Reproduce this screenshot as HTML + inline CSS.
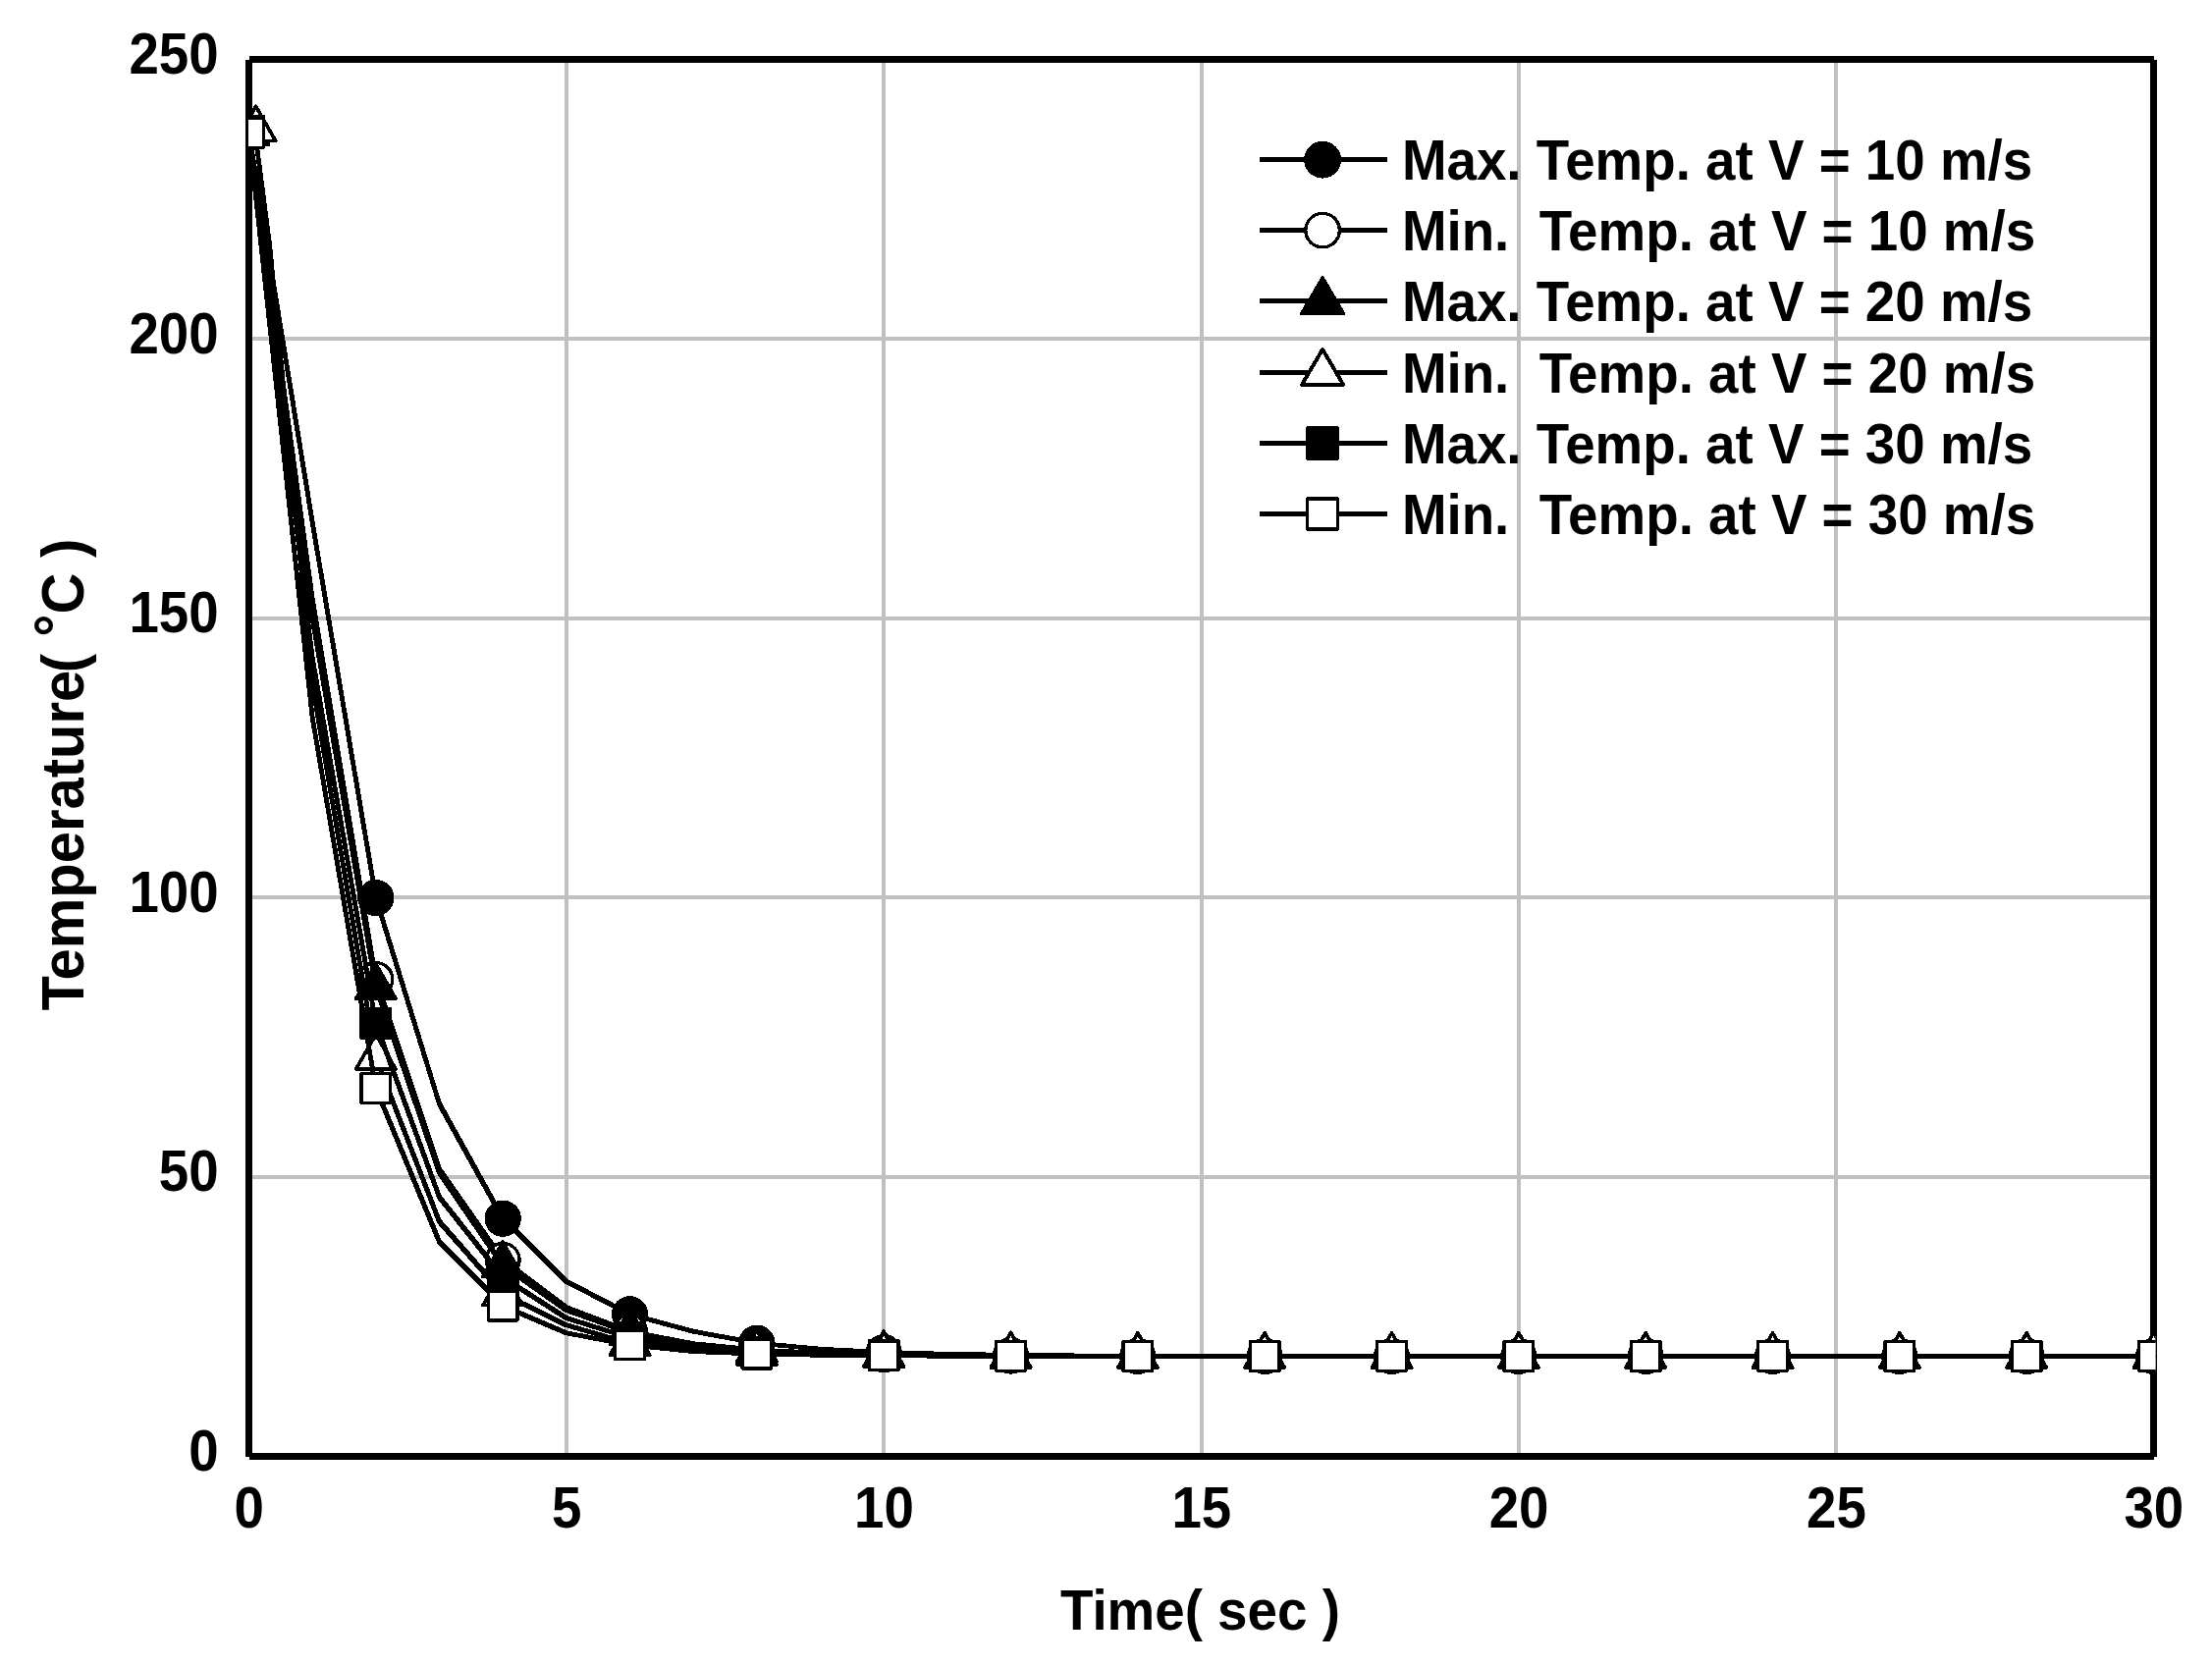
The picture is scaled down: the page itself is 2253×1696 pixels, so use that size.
<!DOCTYPE html>
<html lang="en"><head><meta charset="utf-8"><title>Temperature vs Time</title>
<style>html,body{margin:0;padding:0;background:#fff}svg{display:block}text{font-family:"Liberation Sans",sans-serif;font-weight:bold;fill:#000}</style></head><body>
<svg width="2253" height="1696" viewBox="0 0 2253 1696">
<rect width="2253" height="1696" fill="#fff"/>
<g stroke="#c0c0c0" stroke-width="4" shape-rendering="crispEdges">
<line x1="576.83" y1="60.5" x2="576.83" y2="1483.5"/>
<line x1="900.17" y1="60.5" x2="900.17" y2="1483.5"/>
<line x1="1223.5" y1="60.5" x2="1223.5" y2="1483.5"/>
<line x1="1546.83" y1="60.5" x2="1546.83" y2="1483.5"/>
<line x1="1870.17" y1="60.5" x2="1870.17" y2="1483.5"/>
<line x1="253.5" y1="1198.9" x2="2193.5" y2="1198.9"/>
<line x1="253.5" y1="914.3" x2="2193.5" y2="914.3"/>
<line x1="253.5" y1="629.7" x2="2193.5" y2="629.7"/>
<line x1="253.5" y1="345.1" x2="2193.5" y2="345.1"/>
</g>
<path d="M253.5 60.5H2193.5M2193.5 60.5V1483.5M2193.5 1483.5H253.5M253.5 1483.5V60.5" fill="none" stroke="#000" stroke-width="7" stroke-linecap="butt" shape-rendering="crispEdges"/>
<clipPath id="c"><rect x="253" y="57" width="1942.5" height="1430"/></clipPath>
<g clip-path="url(#c)" stroke="#000" stroke-linejoin="round" stroke-linecap="round" shape-rendering="crispEdges">
<polyline points="253.5,135.4 318.17,532 382.83,914.5" fill="none" stroke-width="4.9"/>
<polyline points="382.83,914.5 447.5,1124.4" fill="none" stroke-width="5.0"/>
<polyline points="447.5,1124.4 512.17,1241.2" fill="none" stroke-width="5.4"/>
<polyline points="512.17,1241.2 576.83,1305.2" fill="none" stroke-width="5.6"/>
<polyline points="576.83,1305.2 641.5,1338.8" fill="none" stroke-width="5.3"/>
<polyline points="641.5,1338.8 706.17,1356.2" fill="none" stroke-width="5.0"/>
<polyline points="706.17,1356.2 770.83,1368.1" fill="none" stroke-width="4.9"/>
<polyline points="770.83,1368.1 835.5,1374.2 900.17,1377.5 964.83,1379.3 1029.5,1380.3 1094.17,1380.9 1158.83,1381.2 1223.5,1381.45 1288.17,1381.45 1352.83,1381.45 1417.5,1381.45 1482.17,1381.45 1546.83,1381.45 1611.5,1381.45 1676.17,1381.45 1740.83,1381.45 1805.5,1381.45 1870.17,1381.45 1934.83,1381.45 1999.5,1381.45 2064.17,1381.45 2128.83,1381.45 2193.5,1381.45" fill="none" stroke-width="4.8"/>
<g stroke-width="3.3">
<circle cx="253.5" cy="135.4" r="16.95" fill="#000"/>
<circle cx="382.83" cy="914.5" r="16.95" fill="#000"/>
<circle cx="512.17" cy="1241.2" r="16.95" fill="#000"/>
<circle cx="641.5" cy="1338.8" r="16.95" fill="#000"/>
<circle cx="770.83" cy="1368.1" r="16.95" fill="#000"/>
<circle cx="900.17" cy="1377.5" r="16.95" fill="#000"/>
<circle cx="1029.5" cy="1380.3" r="16.95" fill="#000"/>
<circle cx="1158.83" cy="1381.2" r="16.95" fill="#000"/>
<circle cx="1288.17" cy="1381.45" r="16.95" fill="#000"/>
<circle cx="1417.5" cy="1381.45" r="16.95" fill="#000"/>
<circle cx="1546.83" cy="1381.45" r="16.95" fill="#000"/>
<circle cx="1676.17" cy="1381.45" r="16.95" fill="#000"/>
<circle cx="1805.5" cy="1381.45" r="16.95" fill="#000"/>
<circle cx="1934.83" cy="1381.45" r="16.95" fill="#000"/>
<circle cx="2064.17" cy="1381.45" r="16.95" fill="#000"/>
<circle cx="2193.5" cy="1381.45" r="16.95" fill="#000"/>
</g>
<polyline points="253.5,135.4 318.17,610 382.83,997.5" fill="none" stroke-width="4.9"/>
<polyline points="382.83,997.5 447.5,1191" fill="none" stroke-width="5.1"/>
<polyline points="447.5,1191 512.17,1283.4 576.83,1331.8" fill="none" stroke-width="5.5"/>
<polyline points="576.83,1331.8 641.5,1356.3" fill="none" stroke-width="5.1"/>
<polyline points="641.5,1356.3 706.17,1368.7" fill="none" stroke-width="4.9"/>
<polyline points="706.17,1368.7 770.83,1375 835.5,1378.2 900.17,1379.8 964.83,1380.6 1029.5,1381 1094.17,1381.45 1158.83,1381.45 1223.5,1381.45 1288.17,1381.45 1352.83,1381.45 1417.5,1381.45 1482.17,1381.45 1546.83,1381.45 1611.5,1381.45 1676.17,1381.45 1740.83,1381.45 1805.5,1381.45 1870.17,1381.45 1934.83,1381.45 1999.5,1381.45 2064.17,1381.45 2128.83,1381.45 2193.5,1381.45" fill="none" stroke-width="4.8"/>
<g stroke-width="3.3">
<circle cx="253.5" cy="135.4" r="16.95" fill="#fff"/>
<circle cx="382.83" cy="997.5" r="16.95" fill="#fff"/>
<circle cx="512.17" cy="1283.4" r="16.95" fill="#fff"/>
<circle cx="641.5" cy="1356.3" r="16.95" fill="#fff"/>
<circle cx="770.83" cy="1375" r="16.95" fill="#fff"/>
<circle cx="900.17" cy="1379.8" r="16.95" fill="#fff"/>
<circle cx="1029.5" cy="1381" r="16.95" fill="#fff"/>
<circle cx="1158.83" cy="1381.45" r="16.95" fill="#fff"/>
<circle cx="1288.17" cy="1381.45" r="16.95" fill="#fff"/>
<circle cx="1417.5" cy="1381.45" r="16.95" fill="#fff"/>
<circle cx="1546.83" cy="1381.45" r="16.95" fill="#fff"/>
<circle cx="1676.17" cy="1381.45" r="16.95" fill="#fff"/>
<circle cx="1805.5" cy="1381.45" r="16.95" fill="#fff"/>
<circle cx="1934.83" cy="1381.45" r="16.95" fill="#fff"/>
<circle cx="2064.17" cy="1381.45" r="16.95" fill="#fff"/>
<circle cx="2193.5" cy="1381.45" r="16.95" fill="#fff"/>
</g>
<polyline points="253.5,135.4 318.17,630 382.83,1005.5" fill="none" stroke-width="4.9"/>
<polyline points="382.83,1005.5 447.5,1194.5" fill="none" stroke-width="5.1"/>
<polyline points="447.5,1194.5 512.17,1288.9 576.83,1334.5" fill="none" stroke-width="5.5"/>
<polyline points="576.83,1334.5 641.5,1357.7" fill="none" stroke-width="5.1"/>
<polyline points="641.5,1357.7 706.17,1369.4" fill="none" stroke-width="4.9"/>
<polyline points="706.17,1369.4 770.83,1375.4 835.5,1378.4 900.17,1379.9 964.83,1380.7 1029.5,1381 1094.17,1381.45 1158.83,1381.45 1223.5,1381.45 1288.17,1381.45 1352.83,1381.45 1417.5,1381.45 1482.17,1381.45 1546.83,1381.45 1611.5,1381.45 1676.17,1381.45 1740.83,1381.45 1805.5,1381.45 1870.17,1381.45 1934.83,1381.45 1999.5,1381.45 2064.17,1381.45 2128.83,1381.45 2193.5,1381.45" fill="none" stroke-width="4.8"/>
<g stroke-width="3.3">
<path stroke-width="3.7" d="M253.5 111.7L273.65 147L233.35 147Z" fill="#000"/>
<path stroke-width="3.7" d="M382.83 981.8L402.98 1017.1L362.68 1017.1Z" fill="#000"/>
<path stroke-width="3.7" d="M512.17 1265.2L532.32 1300.5L492.02 1300.5Z" fill="#000"/>
<path stroke-width="3.7" d="M641.5 1334L661.65 1369.3L621.35 1369.3Z" fill="#000"/>
<path stroke-width="3.7" d="M770.83 1351.7L790.98 1387L750.68 1387Z" fill="#000"/>
<path stroke-width="3.7" d="M900.17 1356.2L920.32 1391.5L880.02 1391.5Z" fill="#000"/>
<path stroke-width="3.7" d="M1029.5 1357.3L1049.65 1392.6L1009.35 1392.6Z" fill="#000"/>
<path stroke-width="3.7" d="M1158.83 1357.75L1178.98 1393.05L1138.68 1393.05Z" fill="#000"/>
<path stroke-width="3.7" d="M1288.17 1357.75L1308.32 1393.05L1268.02 1393.05Z" fill="#000"/>
<path stroke-width="3.7" d="M1417.5 1357.75L1437.65 1393.05L1397.35 1393.05Z" fill="#000"/>
<path stroke-width="3.7" d="M1546.83 1357.75L1566.98 1393.05L1526.68 1393.05Z" fill="#000"/>
<path stroke-width="3.7" d="M1676.17 1357.75L1696.32 1393.05L1656.02 1393.05Z" fill="#000"/>
<path stroke-width="3.7" d="M1805.5 1357.75L1825.65 1393.05L1785.35 1393.05Z" fill="#000"/>
<path stroke-width="3.7" d="M1934.83 1357.75L1954.98 1393.05L1914.68 1393.05Z" fill="#000"/>
<path stroke-width="3.7" d="M2064.17 1357.75L2084.32 1393.05L2044.02 1393.05Z" fill="#000"/>
<path stroke-width="3.7" d="M2193.5 1357.75L2213.65 1393.05L2173.35 1393.05Z" fill="#000"/>
</g>
<polyline points="259.4,132 274.7,250 318.17,697" fill="none" stroke-width="4.8"/>
<polyline points="318.17,697 382.83,1077.3" fill="none" stroke-width="4.9"/>
<polyline points="382.83,1077.3 447.5,1244.3" fill="none" stroke-width="5.1"/>
<polyline points="447.5,1244.3 512.17,1318" fill="none" stroke-width="5.6"/>
<polyline points="512.17,1318 576.83,1349.7" fill="none" stroke-width="5.3"/>
<polyline points="576.83,1349.7 641.5,1368.5" fill="none" stroke-width="5.0"/>
<polyline points="641.5,1368.5 706.17,1375.2 770.83,1378.3 835.5,1379.9 900.17,1380.7 964.83,1381.1 1029.5,1381.45 1094.17,1381.45 1158.83,1381.45 1223.5,1381.45 1288.17,1381.45 1352.83,1381.45 1417.5,1381.45 1482.17,1381.45 1546.83,1381.45 1611.5,1381.45 1676.17,1381.45 1740.83,1381.45 1805.5,1381.45 1870.17,1381.45 1934.83,1381.45 1999.5,1381.45 2064.17,1381.45 2128.83,1381.45 2193.5,1381.45" fill="none" stroke-width="4.8"/>
<g stroke-width="3.3">
<path stroke-width="3.7" d="M260.6 108.3L280.75 143.6L240.45 143.6Z" fill="#fff"/>
<path stroke-width="3.7" d="M382.83 1053.6L402.98 1088.9L362.68 1088.9Z" fill="#fff"/>
<path stroke-width="3.7" d="M512.17 1294.3L532.32 1329.6L492.02 1329.6Z" fill="#fff"/>
<path stroke-width="3.7" d="M641.5 1344.8L661.65 1380.1L621.35 1380.1Z" fill="#fff"/>
<path stroke-width="3.7" d="M770.83 1354.6L790.98 1389.9L750.68 1389.9Z" fill="#fff"/>
<path stroke-width="3.7" d="M900.17 1357L920.32 1392.3L880.02 1392.3Z" fill="#fff"/>
<path stroke-width="3.7" d="M1029.5 1357.75L1049.65 1393.05L1009.35 1393.05Z" fill="#fff"/>
<path stroke-width="3.7" d="M1158.83 1357.75L1178.98 1393.05L1138.68 1393.05Z" fill="#fff"/>
<path stroke-width="3.7" d="M1288.17 1357.75L1308.32 1393.05L1268.02 1393.05Z" fill="#fff"/>
<path stroke-width="3.7" d="M1417.5 1357.75L1437.65 1393.05L1397.35 1393.05Z" fill="#fff"/>
<path stroke-width="3.7" d="M1546.83 1357.75L1566.98 1393.05L1526.68 1393.05Z" fill="#fff"/>
<path stroke-width="3.7" d="M1676.17 1357.75L1696.32 1393.05L1656.02 1393.05Z" fill="#fff"/>
<path stroke-width="3.7" d="M1805.5 1357.75L1825.65 1393.05L1785.35 1393.05Z" fill="#fff"/>
<path stroke-width="3.7" d="M1934.83 1357.75L1954.98 1393.05L1914.68 1393.05Z" fill="#fff"/>
<path stroke-width="3.7" d="M2064.17 1357.75L2084.32 1393.05L2044.02 1393.05Z" fill="#fff"/>
<path stroke-width="3.7" d="M2193.5 1357.75L2213.65 1393.05L2173.35 1393.05Z" fill="#fff"/>
</g>
<polyline points="253.5,133 318.17,670" fill="none" stroke-width="4.8"/>
<polyline points="318.17,670 382.83,1042.4" fill="none" stroke-width="4.9"/>
<polyline points="382.83,1042.4 447.5,1219.4" fill="none" stroke-width="5.1"/>
<polyline points="447.5,1219.4 512.17,1301" fill="none" stroke-width="5.5"/>
<polyline points="512.17,1301 576.83,1342.6" fill="none" stroke-width="5.4"/>
<polyline points="576.83,1342.6 641.5,1362.7" fill="none" stroke-width="5.0"/>
<polyline points="641.5,1362.7 706.17,1372.4" fill="none" stroke-width="4.9"/>
<polyline points="706.17,1372.4 770.83,1377 835.5,1379.3 900.17,1380.4 964.83,1380.9 1029.5,1381.45 1094.17,1381.45 1158.83,1381.45 1223.5,1381.45 1288.17,1381.45 1352.83,1381.45 1417.5,1381.45 1482.17,1381.45 1546.83,1381.45 1611.5,1381.45 1676.17,1381.45 1740.83,1381.45 1805.5,1381.45 1870.17,1381.45 1934.83,1381.45 1999.5,1381.45 2064.17,1381.45 2128.83,1381.45 2193.5,1381.45" fill="none" stroke-width="4.8"/>
<g stroke-width="3.3">
<rect x="238.7" y="118.2" width="29.6" height="29.6" fill="#000"/>
<rect x="368.03" y="1027.6" width="29.6" height="29.6" fill="#000"/>
<rect x="497.37" y="1286.2" width="29.6" height="29.6" fill="#000"/>
<rect x="626.7" y="1347.9" width="29.6" height="29.6" fill="#000"/>
<rect x="756.03" y="1362.2" width="29.6" height="29.6" fill="#000"/>
<rect x="885.37" y="1365.6" width="29.6" height="29.6" fill="#000"/>
<rect x="1014.7" y="1366.65" width="29.6" height="29.6" fill="#000"/>
<rect x="1144.03" y="1366.65" width="29.6" height="29.6" fill="#000"/>
<rect x="1273.37" y="1366.65" width="29.6" height="29.6" fill="#000"/>
<rect x="1402.7" y="1366.65" width="29.6" height="29.6" fill="#000"/>
<rect x="1532.03" y="1366.65" width="29.6" height="29.6" fill="#000"/>
<rect x="1661.37" y="1366.65" width="29.6" height="29.6" fill="#000"/>
<rect x="1790.7" y="1366.65" width="29.6" height="29.6" fill="#000"/>
<rect x="1920.03" y="1366.65" width="29.6" height="29.6" fill="#000"/>
<rect x="2049.37" y="1366.65" width="29.6" height="29.6" fill="#000"/>
<rect x="2178.7" y="1366.65" width="29.6" height="29.6" fill="#000"/>
</g>
<polyline points="253.5,135.4 318.17,731" fill="none" stroke-width="4.8"/>
<polyline points="318.17,731 382.83,1108.5" fill="none" stroke-width="4.9"/>
<polyline points="382.83,1108.5 447.5,1264.9" fill="none" stroke-width="5.2"/>
<polyline points="447.5,1264.9 512.17,1330.2" fill="none" stroke-width="5.6"/>
<polyline points="512.17,1330.2 576.83,1357.8" fill="none" stroke-width="5.2"/>
<polyline points="576.83,1357.8 641.5,1370" fill="none" stroke-width="4.9"/>
<polyline points="641.5,1370 706.17,1376.6 770.83,1379.1 835.5,1380.3 900.17,1380.9 964.83,1381.2 1029.5,1381.45 1094.17,1381.45 1158.83,1381.45 1223.5,1381.45 1288.17,1381.45 1352.83,1381.45 1417.5,1381.45 1482.17,1381.45 1546.83,1381.45 1611.5,1381.45 1676.17,1381.45 1740.83,1381.45 1805.5,1381.45 1870.17,1381.45 1934.83,1381.45 1999.5,1381.45 2064.17,1381.45 2128.83,1381.45 2193.5,1381.45" fill="none" stroke-width="4.8"/>
<g stroke-width="3.3">
<rect x="238.7" y="120.6" width="29.6" height="29.6" fill="#fff"/>
<rect x="368.03" y="1093.7" width="29.6" height="29.6" fill="#fff"/>
<rect x="497.37" y="1315.4" width="29.6" height="29.6" fill="#fff"/>
<rect x="626.7" y="1355.2" width="29.6" height="29.6" fill="#fff"/>
<rect x="756.03" y="1364.3" width="29.6" height="29.6" fill="#fff"/>
<rect x="885.37" y="1366.1" width="29.6" height="29.6" fill="#fff"/>
<rect x="1014.7" y="1366.65" width="29.6" height="29.6" fill="#fff"/>
<rect x="1144.03" y="1366.65" width="29.6" height="29.6" fill="#fff"/>
<rect x="1273.37" y="1366.65" width="29.6" height="29.6" fill="#fff"/>
<rect x="1402.7" y="1366.65" width="29.6" height="29.6" fill="#fff"/>
<rect x="1532.03" y="1366.65" width="29.6" height="29.6" fill="#fff"/>
<rect x="1661.37" y="1366.65" width="29.6" height="29.6" fill="#fff"/>
<rect x="1790.7" y="1366.65" width="29.6" height="29.6" fill="#fff"/>
<rect x="1920.03" y="1366.65" width="29.6" height="29.6" fill="#fff"/>
<rect x="2049.37" y="1366.65" width="29.6" height="29.6" fill="#fff"/>
<rect x="2178.7" y="1366.65" width="29.6" height="29.6" fill="#fff"/>
</g>
</g>
<g stroke="#000" stroke-linejoin="round" shape-rendering="crispEdges">
<line x1="1283" y1="162.7" x2="1413" y2="162.7" stroke-width="4.9"/>
<g stroke-width="3.3"><circle cx="1347.1" cy="162.7" r="17.25" fill="#000"/></g>
<line x1="1283" y1="234.6" x2="1413" y2="234.6" stroke-width="4.9"/>
<g stroke-width="3.3"><circle cx="1347.1" cy="234.6" r="17.25" fill="#fff"/></g>
<line x1="1283" y1="306.9" x2="1413" y2="306.9" stroke-width="4.9"/>
<g stroke-width="3.3"><path stroke-width="3.9" d="M1347.1 283.35L1368.2 319.3L1326 319.3Z" fill="#000"/></g>
<line x1="1283" y1="379.45" x2="1413" y2="379.45" stroke-width="4.9"/>
<g stroke-width="3.3"><path stroke-width="3.9" d="M1347.1 355.9L1368.2 391.85L1326 391.85Z" fill="#fff"/></g>
<line x1="1283" y1="451.5" x2="1413" y2="451.5" stroke-width="4.9"/>
<g stroke-width="3.3"><rect x="1331.65" y="436.05" width="30.9" height="30.9" fill="#000"/></g>
<line x1="1283" y1="523.5" x2="1413" y2="523.5" stroke-width="4.9"/>
<g stroke-width="3.3"><rect x="1331.65" y="508.05" width="30.9" height="30.9" fill="#fff"/></g>
</g>
<g font-size="58.0">
<text transform="translate(1427.9 183) scale(0.944 1)" style="white-space:pre">Max. Temp. at V = 10 m/s</text>
<text transform="translate(1427.9 254.9) scale(0.944 1)" style="white-space:pre">Min.  Temp. at V = 10 m/s</text>
<text transform="translate(1427.9 327.2) scale(0.944 1)" style="white-space:pre">Max. Temp. at V = 20 m/s</text>
<text transform="translate(1427.9 399.75) scale(0.944 1)" style="white-space:pre">Min.  Temp. at V = 20 m/s</text>
<text transform="translate(1427.9 471.8) scale(0.944 1)" style="white-space:pre">Max. Temp. at V = 30 m/s</text>
<text transform="translate(1427.9 543.8) scale(0.944 1)" style="white-space:pre">Min.  Temp. at V = 30 m/s</text>
</g>
<g font-size="58.6" text-anchor="end">
<text transform="translate(222.6 1498) scale(0.933 1)">0</text>
<text transform="translate(222.6 1213.4) scale(0.933 1)">50</text>
<text transform="translate(222.6 928.8) scale(0.933 1)">100</text>
<text transform="translate(222.6 644.2) scale(0.933 1)">150</text>
<text transform="translate(222.6 359.6) scale(0.933 1)">200</text>
<text transform="translate(222.6 75) scale(0.933 1)">250</text>
</g>
<g font-size="58.6" text-anchor="middle">
<text transform="translate(253.8 1555.6) scale(0.933 1)">0</text>
<text transform="translate(577.13 1555.6) scale(0.933 1)">5</text>
<text transform="translate(900.47 1555.6) scale(0.933 1)">10</text>
<text transform="translate(1223.8 1555.6) scale(0.933 1)">15</text>
<text transform="translate(1547.13 1555.6) scale(0.933 1)">20</text>
<text transform="translate(1870.47 1555.6) scale(0.933 1)">25</text>
<text transform="translate(2193.8 1555.6) scale(0.933 1)">30</text>
</g>
<text font-size="58.0" text-anchor="middle" transform="translate(1222.4 1659.9) scale(0.944 1)" style="white-space:pre">Time( sec )</text>
<text font-size="58" transform="translate(85.2 1029.6) rotate(-90) scale(1 1.057)" style="white-space:pre">Temperature<tspan dx="-2.5">( </tspan><tspan dx="1" dy="-7">°</tspan><tspan dx="0" dy="7">C</tspan><tspan dx="-0.5"> )</tspan></text>
</svg></body></html>
